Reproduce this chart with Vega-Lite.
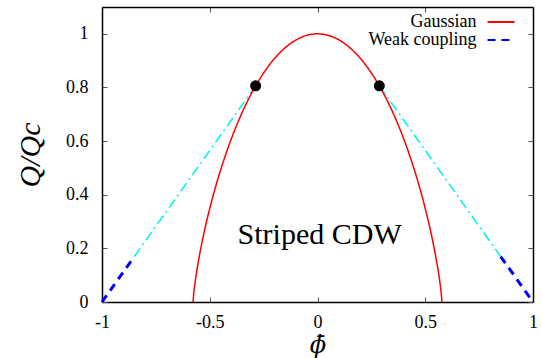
{
  "$schema": "https://vega.github.io/schema/vega-lite/v6.json",
  "autosize": {"type": "none"},
  "padding": {"left": 102, "top": 7, "right": 8, "bottom": 56},
  "width": 431,
  "height": 295,
  "background": "white",
  "view": {"stroke": null},
  "config": {
    "font": "Times",
    "axis": {
      "grid": false,
      "domainColor": "black",
      "domainWidth": 1.5,
      "tickColor": "#555555",
      "tickWidth": 1,
      "tickSize": -5,
      "labelFont": "Times",
      "labelFontSize": 18,
      "labelColor": "black",
      "titleFont": "Times",
      "titleFontStyle": "italic",
      "titleFontWeight": "normal",
      "titleColor": "black",
      "labelFlush": false,
      "labelOverlap": false
    }
  },
  "datasets": {
    "gauss": [
      {"phi": -0.5774, "q": 0, "series": "Gaussian"},
      {"phi": -0.575, "q": 0.0258, "series": "Gaussian"},
      {"phi": -0.57, "q": 0.0611, "series": "Gaussian"},
      {"phi": -0.56, "q": 0.1167, "series": "Gaussian"},
      {"phi": -0.55, "q": 0.1638, "series": "Gaussian"},
      {"phi": -0.54, "q": 0.2062, "series": "Gaussian"},
      {"phi": -0.52, "q": 0.2817, "series": "Gaussian"},
      {"phi": -0.5, "q": 0.3487, "series": "Gaussian"},
      {"phi": -0.47, "q": 0.4378, "series": "Gaussian"},
      {"phi": -0.45, "q": 0.4913, "series": "Gaussian"},
      {"phi": -0.43, "q": 0.5407, "series": "Gaussian"},
      {"phi": -0.4, "q": 0.6084, "series": "Gaussian"},
      {"phi": -0.35, "q": 0.706, "series": "Gaussian"},
      {"phi": -0.3, "q": 0.7873, "series": "Gaussian"},
      {"phi": -0.25, "q": 0.854, "series": "Gaussian"},
      {"phi": -0.2, "q": 0.9074, "series": "Gaussian"},
      {"phi": -0.15, "q": 0.9483, "series": "Gaussian"},
      {"phi": -0.1, "q": 0.9771, "series": "Gaussian"},
      {"phi": -0.05, "q": 0.9943, "series": "Gaussian"},
      {"phi": 0, "q": 1, "series": "Gaussian"},
      {"phi": 0.05, "q": 0.9943, "series": "Gaussian"},
      {"phi": 0.1, "q": 0.9771, "series": "Gaussian"},
      {"phi": 0.15, "q": 0.9483, "series": "Gaussian"},
      {"phi": 0.2, "q": 0.9074, "series": "Gaussian"},
      {"phi": 0.25, "q": 0.854, "series": "Gaussian"},
      {"phi": 0.3, "q": 0.7873, "series": "Gaussian"},
      {"phi": 0.35, "q": 0.706, "series": "Gaussian"},
      {"phi": 0.4, "q": 0.6084, "series": "Gaussian"},
      {"phi": 0.43, "q": 0.5407, "series": "Gaussian"},
      {"phi": 0.45, "q": 0.4913, "series": "Gaussian"},
      {"phi": 0.47, "q": 0.4378, "series": "Gaussian"},
      {"phi": 0.5, "q": 0.3487, "series": "Gaussian"},
      {"phi": 0.52, "q": 0.2817, "series": "Gaussian"},
      {"phi": 0.54, "q": 0.2062, "series": "Gaussian"},
      {"phi": 0.55, "q": 0.1638, "series": "Gaussian"},
      {"phi": 0.56, "q": 0.1167, "series": "Gaussian"},
      {"phi": 0.57, "q": 0.0611, "series": "Gaussian"},
      {"phi": 0.575, "q": 0.0258, "series": "Gaussian"},
      {"phi": 0.5774, "q": 0, "series": "Gaussian"}
    ],
    "weak": [
      {"phi": -1, "q": 0, "seg": "L", "series": "Weak coupling"},
      {"phi": -0.85, "q": 0.1696, "seg": "L", "series": "Weak coupling"},
      {"phi": 0.85, "q": 0.1696, "seg": "R", "series": "Weak coupling"},
      {"phi": 1, "q": 0, "seg": "R", "series": "Weak coupling"}
    ],
    "cyan": [
      {"phi": -0.85, "q": 0.1696, "seg": "L"},
      {"phi": -0.287, "q": 0.806, "seg": "L"},
      {"phi": 0.287, "q": 0.806, "seg": "R"},
      {"phi": 0.85, "q": 0.1696, "seg": "R"}
    ],
    "dots": [
      {"phi": -0.287, "q": 0.806},
      {"phi": 0.287, "q": 0.806}
    ],
    "label": [
      {"phi": 0.01, "q": 0.25, "text": "Striped CDW"}
    ]
  },
  "layer": [
    {
      "data": {"name": "cyan"},
      "mark": {"type": "line", "color": "#00f0f0", "strokeWidth": 1.5, "strokeDash": [10, 4, 2, 4]},
      "encoding": {
        "x": {"field": "phi", "type": "quantitative", "scale": {"domain": [-1, 1], "nice": false}, "axis": null},
        "y": {"field": "q", "type": "quantitative", "scale": {"domain": [0, 1.1], "nice": false}, "axis": null},
        "detail": {"field": "seg"}
      }
    },
    {
      "data": {"name": "gauss"},
      "mark": {"type": "line", "strokeWidth": 1.5, "interpolate": "monotone"},
      "encoding": {
        "x": {"field": "phi", "type": "quantitative", "scale": {"domain": [-1, 1], "nice": false},
          "axis": {"orient": "bottom", "values": [-1, -0.5, 0, 0.5, 1], "labelExpr": "'' + datum.value", "labelPadding": 16, "title": "ϕ̄", "titleFont": "DejaVu Serif", "titleFontSize": 24, "titlePadding": 2}},
        "y": {"field": "q", "type": "quantitative", "scale": {"domain": [0, 1.1], "nice": false},
          "axis": {"orient": "left", "values": [0, 0.2, 0.4, 0.6, 0.8, 1], "labelExpr": "'' + datum.value", "labelPadding": 19, "title": "Q/Qc", "titleFontSize": 30, "titlePadding": 20}},
        "color": {"field": "series", "type": "nominal",
          "scale": {"domain": ["Gaussian", "Weak coupling"], "range": ["#ff0000", "#0000ff"]},
          "legend": {"orient": "none", "legendX": 390, "legendY": 6, "title": null, "symbolType": "M-2,0H2", "symbolSize": 182, "symbolStrokeWidth": 2, "symbolFillColor": "transparent", "labelAlign": "right", "labelOffset": -33.5, "labelFont": "Times", "labelFontSize": 18, "labelColor": "black", "padding": 0, "rowPadding": -2}},
        "strokeDash": {"field": "series", "type": "nominal",
          "scale": {"domain": ["Gaussian", "Weak coupling"], "range": [[1, 0], [8, 6]]},
          "legend": {"orient": "none", "legendX": 390, "legendY": 6, "title": null, "symbolType": "M-2,0H2", "symbolSize": 182, "symbolStrokeWidth": 2, "symbolFillColor": "transparent", "labelAlign": "right", "labelOffset": -33.5, "labelFont": "Times", "labelFontSize": 18, "labelColor": "black", "padding": 0, "rowPadding": -2}}
      }
    },
    {
      "data": {"name": "weak"},
      "mark": {"type": "line", "strokeWidth": 3},
      "encoding": {
        "x": {"field": "phi", "type": "quantitative", "axis": null},
        "y": {"field": "q", "type": "quantitative", "axis": null},
        "detail": {"field": "seg"},
        "color": {"field": "series", "type": "nominal"},
        "strokeDash": {"field": "series", "type": "nominal"}
      }
    },
    {
      "data": {"name": "dots"},
      "mark": {"type": "circle", "size": 120, "color": "black", "opacity": 1},
      "encoding": {
        "x": {"field": "phi", "type": "quantitative", "axis": {"orient": "top", "values": [-1, -0.5, 0, 0.5, 1], "labels": false, "title": null}},
        "y": {"field": "q", "type": "quantitative", "axis": {"orient": "right", "values": [0, 0.2, 0.4, 0.6, 0.8, 1], "labels": false, "title": null}}
      }
    },
    {
      "data": {"name": "label"},
      "mark": {"type": "text", "font": "Times", "fontSize": 30, "color": "black", "align": "center", "baseline": "middle"},
      "encoding": {
        "x": {"field": "phi", "type": "quantitative", "axis": null},
        "y": {"field": "q", "type": "quantitative", "axis": null},
        "text": {"field": "text"}
      }
    }
  ],
  "resolve": {"axis": {"x": "independent", "y": "independent"}}
}
